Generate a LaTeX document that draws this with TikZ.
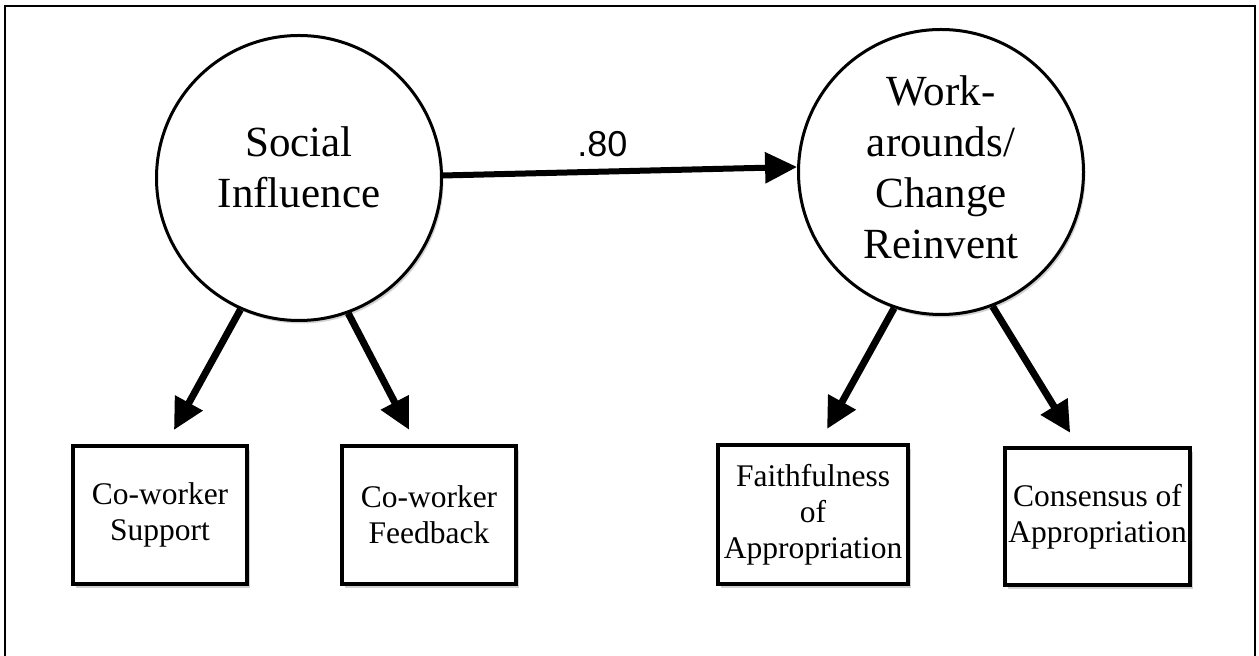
\documentclass[tikz,border=0pt]{standalone}
\usepackage{fontspec}
\setmainfont{Liberation Serif}
\newfontfamily\labelfont{Liberation Sans}
\usetikzlibrary{arrows.meta}
\usetikzlibrary{shadows}

\begin{document}
\begin{tikzpicture}[x=1pt, y=1pt, node distance=100pt, latent/.style={circle, draw, line width=3pt, fill=white, minimum size=285pt, inner sep=0pt, align=center, font=\fontsize{43}{51}\selectfont, drop shadow={shadow xshift=2pt, shadow yshift=-3pt, fill=gray!70, opacity=0.5}}, manifest/.style={rectangle, draw, line width=4pt, fill=white, inner sep=2pt, align=center, minimum width=174pt, minimum height=138pt, font=\fontsize{31.5}{36}\selectfont, drop shadow={shadow xshift=3pt, shadow yshift=-4pt, fill=gray!70, opacity=0.5}}, effect/.style={-{Triangle[length=32pt, width=30pt]}, line width=6pt}, loading/.style={-{Triangle[length=31pt, width=30pt]}, line width=7pt, shorten >=16pt}]
	\useasboundingbox (0,0) rectangle (1259,656);
	\draw[line width=2pt] (5,0) |- (1255,650) -- (1255,0);

	% nodes
	\node[latent, text depth=21pt] (soc) at (299,478) {Social\\Influence};%
	\node[latent, text depth=10pt, right of=soc, xshift=542pt, yshift=6pt] (work) {Work-\\arounds/\\Change\\Reinvent}; %

	\node[manifest, below of=soc, xshift=-139pt, yshift=-237pt] (sup) {Co-worker\\Support}; %
	\node[manifest, right of=sup, xshift=169pt] (feed) {Co-worker\\Feedback}; %
	\node[manifest, below of=work, xshift=-128pt, yshift=-242.5pt, minimum width=190pt, minimum height=139pt] (faith) {Faithfulness\\of\\Appropriation}; %
	\node[manifest, right of=faith, xshift=184.5pt, yshift=-2.5pt, minimum width=185pt, minimum height=137pt] (cons) {Consensus of\\Appropriation}; %

	% edges
	\draw [effect] (soc.1) -- node[above=12pt, inner sep=0pt, pos=0.45, font=\labelfont\fontsize{36}{40}\selectfont] (coef) {.80} (work.178);
	\draw [loading] (soc.246) -- (sup.85);
	\draw [loading] (soc.290) -- (feed.100);
	\draw [loading] (work.251) -- (faith.85);
	\draw [loading] (work.291) -- (cons.105);
\end{tikzpicture}
\end{document}
